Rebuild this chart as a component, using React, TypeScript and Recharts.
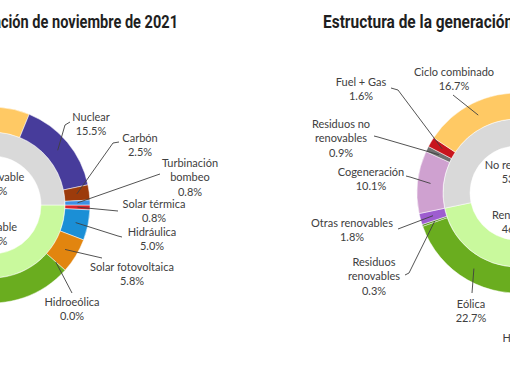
import { PieChart, Pie } from "recharts"

// Generation structure, November 2021 (left) and year to date (right)
const sources = [
  "Solar térmica",
  "Hidráulica",
  "Solar fotovoltaica",
  "Hidroeólica",
  "Eólica",
  "Residuos renovables",
  "Otras renovables",
  "Cogeneración",
  "Residuos no renovables",
  "Fuel + Gas",
  "Ciclo combinado",
  "Nuclear",
  "Carbón",
  "Turbinación bombeo",
]
const novValues = [0.8, 5.0, 5.8, 0.0, 32.6, 0.3, 2.1, 11.4, 0.9, 2.0, 20.3, 15.5, 2.5, 0.8]
const yearValues = [1.7, 11.3, 8.9, 0.0, 22.7, 0.3, 1.8, 10.1, 0.9, 1.6, 16.7, 20.9, 2.0, 1.1]

const groups = ["Renovable", "No renovable"]
const novGroupValues = [46.6, 53.4]
const yearGroupValues = [46.7, 53.3]

const sourceColors: Record<string, string> = {
  "Solar térmica": "#d9232b",
  "Hidráulica": "#1b8fd6",
  "Solar fotovoltaica": "#e2850f",
  "Hidroeólica": "#5fc1e8",
  "Eólica": "#6aad1f",
  "Residuos renovables": "#4f8a17",
  "Otras renovables": "#9d5ccf",
  "Cogeneración": "#cfa1d0",
  "Residuos no renovables": "#707070",
  "Fuel + Gas": "#c8151d",
  "Ciclo combinado": "#ffc964",
  "Nuclear": "#473c9b",
  "Carbón": "#9c3b0b",
  "Turbinación bombeo": "#3d8fe4",
}
const groupColors = ["#c9f99d", "#d9d9d9"]

// how long names wrap in the labels
const wrapped: Record<string, string[]> = {
  "Turbinación bombeo": ["Turbinación", "bombeo"],
  "Residuos no renovables": ["Residuos no", "renovables"],
  "Residuos renovables": ["Residuos", "renovables"],
}

// label placement, offsets from the donut centre: text centre (tx, ty), then leader line points
type Place = { tx: number; ty: number; pts: number[][] }
const novPlaces: Record<string, Place> = {
  "Nuclear": { tx: 99, ty: -89, pts: [[73, -80], [78, -83]] },
  "Carbón": { tx: 148, ty: -68, pts: [[121, -62], [127, -63]] },
  "Turbinación bombeo": { tx: 198, ty: -43, pts: [[165, -30], [168, -31]] },
  "Solar térmica": { tx: 162, ty: -2, pts: [[126, 6]] },
  "Hidráulica": { tx: 160, ty: 26, pts: [[126, 31], [130, 32]] },
  "Solar fotovoltaica": { tx: 140, ty: 61, pts: [[110, 53]] },
  "Hidroeólica": { tx: 80, ty: 96, pts: [[80, 88]] },
  // left half, outside the frame
  "Eólica": { tx: -70, ty: 118, pts: [[-62, 105]] },
  "Residuos renovables": { tx: -150, ty: 72, pts: [[-112, 80]] },
  "Otras renovables": { tx: -170, ty: 30, pts: [[-122, 36]] },
  "Cogeneración": { tx: -150, ty: -20, pts: [[-110, -16]] },
  "Residuos no renovables": { tx: -180, ty: -70, pts: [[-140, -56]] },
  "Fuel + Gas": { tx: -160, ty: -115, pts: [[-122, -104]] },
  "Ciclo combinado": { tx: -80, ty: -128, pts: [[-70, -102]] },
}
const yearPlaces: Record<string, Place> = {
  "Ciclo combinado": { tx: -63, ty: -122, pts: [[-64, -98]] },
  "Fuel + Gas": { tx: -156, ty: -112, pts: [[-119, -103], [-126, -105]] },
  "Residuos no renovables": { tx: -176, ty: -70, pts: [[-139, -56], [-143, -57]] },
  "Cogeneración": { tx: -146, ty: -22, pts: [[-107, -16], [-111, -17]] },
  "Otras renovables": { tx: -165, ty: 29, pts: [[-119, 36]] },
  "Residuos renovables": { tx: -143, ty: 68, pts: [[-108, 80], [-112, 82]] },
  "Eólica": { tx: -46, ty: 110, pts: [[-45, 100]] },
  "Hidroeólica": { tx: 13, ty: 144, pts: [[11, 135]] },
  // right half, outside the frame
  "Nuclear": { tx: 110, ty: -115, pts: [[80, -98]] },
  "Carbón": { tx: 150, ty: -70, pts: [[122, -62]] },
  "Turbinación bombeo": { tx: 200, ty: -40, pts: [[165, -30]] },
  "Solar térmica": { tx: 165, ty: 2, pts: [[126, 6]] },
  "Hidráulica": { tx: 160, ty: 45, pts: [[125, 45]] },
  "Solar fotovoltaica": { tx: 130, ty: 100, pts: [[105, 90]] },
}

const RADIAN = Math.PI / 180
const FONT = "Lato, 'Liberation Sans', sans-serif"
const LH = 14.3
const TEXT = "#404040"

const makeRows = (names: string[], values: number[], colors: Record<string, string> | string[]) =>
  names.map((name, i) => ({
    name,
    value: values[i],
    fill: Array.isArray(colors) ? colors[i] : colors[name],
  }))

const novOuter = makeRows(sources, novValues, sourceColors)
const yearOuter = makeRows(sources, yearValues, sourceColors)
const novInner = makeRows(groups, novGroupValues, groupColors)
const yearInner = makeRows(groups, yearGroupValues, groupColors)

const pct = (v: number) => `${v.toFixed(1)}%`

function outerLabel(places: Record<string, Place>) {
  return (p: any) => {
    const name = p.payload?.name ?? p.name
    const r = (p.innerRadius + p.outerRadius) / 2
    const sx = p.cx + r * Math.cos(-p.midAngle * RADIAN)
    const sy = p.cy + r * Math.sin(-p.midAngle * RADIAN)
    let place = places[name]
    if (!place) {
      const dx = 150 * Math.cos(-p.midAngle * RADIAN)
      const dy = 150 * Math.sin(-p.midAngle * RADIAN)
      place = { tx: dx, ty: dy, pts: [[dx * 0.85, dy * 0.85]] }
    }
    const lines = [...(wrapped[name] ?? [name]), pct(p.value)]
    const tx = p.cx + place.tx
    const ty = p.cy + place.ty
    const points = [[sx, sy], ...place.pts.map(([x, y]) => [p.cx + x, p.cy + y])]
    return (
      <g key={`lbl-${name}`}>
        <polyline
          points={points.map((q) => q.join(",")).join(" ")}
          fill="none"
          stroke={TEXT}
          strokeWidth={0.9}
        />
        <text x={tx} y={ty} textAnchor="middle" dominantBaseline="central" fill={TEXT} fontSize={11} fontFamily={FONT}>
          {lines.map((s, i) => (
            <tspan key={i} x={tx} dy={i ? LH : 0}>
              {s}
            </tspan>
          ))}
        </text>
      </g>
    )
  }
}

// group labels sit in the hole, above or below the centre
const innerLabel = (p: any) => {
  const x = p.cx
  const y = p.cy + 25 * Math.sin(-p.midAngle * RADIAN) + 3
  return (
    <text key={`in-${p.name}`} x={x} y={y - LH / 2} textAnchor="middle" dominantBaseline="central" fill={TEXT} fontSize={11} fontFamily={FONT}>
      <tspan x={x}>{p.payload?.name ?? p.name}</tspan>
      <tspan x={x} dy={LH}>{pct(p.value)}</tspan>
    </text>
  )
}

const W = 510
const H = 382

export default function App() {
  const common = {
    dataKey: "value",
    nameKey: "name",
    startAngle: 0,
    endAngle: -360,
    stroke: "#ffffff",
    strokeWidth: 0.5,
    isAnimationActive: false,
    labelLine: false,
  }
  return (
    <div style={{ position: "absolute", left: 0, top: 0, width: W, height: H, background: "#fff", overflow: "hidden" }}>
      <PieChart width={W} height={H} margin={{ top: 0, right: 0, bottom: 0, left: 0 }}>
        <Pie {...common} data={novInner} cx={-8} cy={205} innerRadius={49} outerRadius={73} label={innerLabel} />
        <Pie {...common} data={novOuter} cx={-8} cy={205} innerRadius={73} outerRadius={98} label={outerLabel(novPlaces)} />
        <Pie {...common} data={yearInner} cx={517} cy={193} innerRadius={47} outerRadius={74} label={innerLabel} />
        <Pie {...common} data={yearOuter} cx={517} cy={193} innerRadius={74} outerRadius={100} label={outerLabel(yearPlaces)} />
      </PieChart>
      <svg width={W} height={H} style={{ position: "absolute", left: 0, top: 0, pointerEvents: "none" }}>
        <g fontFamily="Roboto, sans-serif" fontWeight={700} fontSize={18} fill="#1f1f1f">
          <text transform="translate(178,28) scale(0.81,1)" textAnchor="end">
            Estructura de la generación de noviembre de 2021
          </text>
          <text transform="translate(323,28) scale(0.86,1)">Estructura de la generación acumulada 2021</text>
        </g>
      </svg>
    </div>
  )
}
